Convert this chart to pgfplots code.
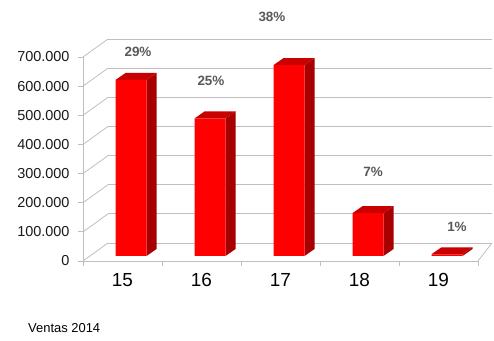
\documentclass[border=0pt]{standalone}
\usepackage{fontspec}
\setmainfont{Liberation Sans}
\usepackage{pgfplots}
\pgfplotsset{compat=1.18}
\definecolor{barred}{HTML}{FF0000}
\definecolor{bartop}{HTML}{C80000}
\definecolor{barside}{HTML}{A80000}
\definecolor{gridgray}{HTML}{BFBFBF}
\definecolor{labgray}{HTML}{595959}
\definecolor{ticktext}{HTML}{1A1A1A}
\begin{document}
\begin{tikzpicture}
\useasboundingbox (0,0) rectangle (494bp,341bp);
% back wall
\begin{axis}[at={(108bp,98bp)}, anchor=south west, width=384bp, height=204bp,
  scale only axis, xmin=0, xmax=5, ymin=0, ymax=700000,
  axis line style={draw=none}, xtick=\empty, ytick={0,100000,...,700000},
  scaled y ticks=false, yticklabels={,,,,,,,,}, major tick length=0pt, ymajorgrids,
  grid style={gridgray, line width=0.8bp}]
\end{axis}
% front axis
\begin{axis}[name=front, at={(83bp,80bp)}, anchor=south west, width=395bp, height=204bp,
  scale only axis, xmin=0, xmax=5, ymin=0, ymax=700000, clip=false,
  axis lines*=left, axis line style={gridgray, line width=0.8bp},
  tick align=outside, major tick length=5bp,
  tick style={gridgray, line width=0.8bp},
  ytick={0,100000,...,700000}, scaled y ticks=false,
  /pgf/number format/fixed, /pgf/number format/1000 sep={.},
  /pgf/number format/assume math mode=true,
  yticklabel style={font=\fontsize{14.5}{16}\selectfont, text=ticktext, xshift=-5bp},
  xtick={0,1,...,5}, xticklabels={,,,,,},
  extra x ticks={0.5,1.5,2.5,3.5,4.5},
  extra x tick labels={15,16,17,18,19},
  extra x tick style={major tick length=0pt,
    xticklabel style={font=\fontsize{19}{21}\selectfont, text=black, yshift=-8bp,
      text height=14bp, text depth=0pt}}]
\pgfplotsinvokeforeach{0,100000,200000,300000,400000,500000,600000,700000}{
  \draw[gridgray, line width=0.8bp] (axis cs:0,#1) -- ++(25bp,18bp);
}
\draw[gridgray, line width=0.8bp] (axis cs:5,0) -- ++(14bp,18bp);
\begin{scope}[every node/.style={font=\bfseries\fontsize{13.5}{15}\selectfont, text=labgray}]
\node at (axis cs:0.696,717157) {29\%};
\node at (axis cs:1.620,617647) {25\%};
\node at (axis cs:2.392,837255) {38\%};
\node at (axis cs:3.671,305392) {7\%};
\node at (axis cs:4.734,116667) {1\%};
\end{scope}
\end{axis}
% bars
\begin{axis}[at={(91.5bp,85bp)}, anchor=south west, width=395bp, height=204bp,
  scale only axis, xmin=0, xmax=5, ymin=0, ymax=700000, hide axis, clip=false]
% side faces
\addplot[fill=barside, draw=none] coordinates {(0.6962,604000) (0.8228,628020) (0.8228,24020) (0.6962,0)};
\addplot[fill=barside, draw=none] coordinates {(1.6962,472000) (1.8228,496020) (1.8228,24020) (1.6962,0)};
\addplot[fill=barside, draw=none] coordinates {(2.6962,655000) (2.8228,679020) (2.8228,24020) (2.6962,0)};
\addplot[fill=barside, draw=none] coordinates {(3.6962,147000) (3.8228,171020) (3.8228,24020) (3.6962,0)};
\addplot[fill=barside, draw=none] coordinates {(4.6962,6000) (4.8228,30020) (4.8228,24020) (4.6962,0)};
% top faces
\addplot[fill=bartop, draw=none] coordinates {(0.3038,604000) (0.4304,628020) (0.8228,628020) (0.6962,604000)};
\addplot[fill=bartop, draw=none] coordinates {(1.3038,472000) (1.4304,496020) (1.8228,496020) (1.6962,472000)};
\addplot[fill=bartop, draw=none] coordinates {(2.3038,655000) (2.4304,679020) (2.8228,679020) (2.6962,655000)};
\addplot[fill=bartop, draw=none] coordinates {(3.3038,147000) (3.4304,171020) (3.8228,171020) (3.6962,147000)};
\addplot[fill=bartop, draw=none] coordinates {(4.3038,6000) (4.4304,30020) (4.8228,30020) (4.6962,6000)};
% front faces
\addplot[ybar, bar width=31bp, fill=barred, draw=none] coordinates {(0.5,604000) (1.5,472000) (2.5,655000) (3.5,147000) (4.5,6000)};
\end{axis}
\node[anchor=west, font=\fontsize{13}{15}\selectfont, inner sep=0pt] at (28bp,13bp) {Ventas 2014};
\end{tikzpicture}
\end{document}
